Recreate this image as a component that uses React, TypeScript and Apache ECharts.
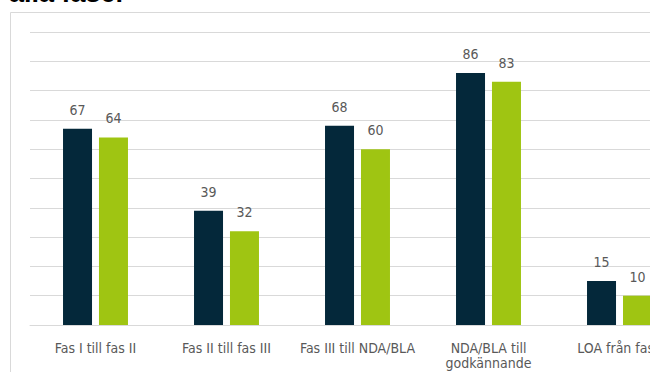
import React, { useEffect, useRef } from "react";
import * as echarts from "echarts";

// Phase transitions shown along the x axis
const categories = [
  "Fas I till fas II",
  "Fas II till fas III",
  "Fas III till NDA/BLA",
  "NDA/BLA till\ngodkännande",
  "LOA från fas I",
];

// Two comparison series (percent)
const seriesA = [67, 39, 68, 86, 15];
const seriesB = [64, 32, 60, 83, 10];

const yTicks = { min: 0, max: 100, interval: 10 };

const NARROW = "'Liberation Sans Narrow', 'Arial Narrow', 'DejaVu Sans Condensed', sans-serif";

export default function App() {
  const ref = useRef<HTMLDivElement>(null);

  useEffect(() => {
    if (!ref.current) return;
    const chart = echarts.init(ref.current, undefined, { renderer: "svg" });
    const label = {
      show: true,
      position: "top" as const,
      distance: 12,
      color: "#595959",
      fontFamily: NARROW,
      fontSize: 14,
    };
    chart.setOption({
      animation: false,
      backgroundColor: "#ffffff",
      graphic: [
        {
          type: "rect",
          shape: { x: 10.5, y: 12.5, width: 720, height: 400 },
          style: { fill: "none", stroke: "#d9d9d9", lineWidth: 1 },
          silent: true,
        },
        {
          type: "text",
          x: 9,
          y: 6,
          style: {
            text: "alla faser",
            fill: "#000000",
            font: "bold 27px 'Liberation Sans', Arial, sans-serif",
            textVerticalAlign: "bottom",
          },
        },
      ],
      grid: { left: 30, top: 32, bottom: 47, right: 15, containLabel: false },
      xAxis: {
        type: "category",
        data: categories,
        axisLine: { show: true, lineStyle: { color: "#d9d9d9", width: 1 } },
        axisTick: { show: false },
        axisLabel: {
          color: "#595959",
          fontFamily: NARROW,
          fontSize: 14,
          lineHeight: 15,
          margin: 15,
          interval: 0,
        },
      },
      yAxis: {
        type: "value",
        min: yTicks.min,
        max: yTicks.max,
        interval: yTicks.interval,
        axisLine: { show: false },
        axisTick: { show: false },
        axisLabel: { show: false },
        splitLine: { lineStyle: { color: "#d9d9d9", width: 1 } },
      },
      series: [
        {
          type: "bar",
          data: seriesA,
          barWidth: 29,
          barGap: "24%",
          itemStyle: { color: "#04283a" },
          label,
        },
        {
          type: "bar",
          data: seriesB,
          barWidth: 29,
          itemStyle: { color: "#9fc512" },
          label,
        },
      ],
    });
    return () => chart.dispose();
  }, []);

  return (
    <div
      style={{
        position: "fixed",
        left: 0,
        top: 0,
        width: 650,
        height: 372,
        overflow: "hidden",
        background: "#fff",
      }}
    >
      <div ref={ref} style={{ width: 700, height: 372 }} />
    </div>
  );
}
